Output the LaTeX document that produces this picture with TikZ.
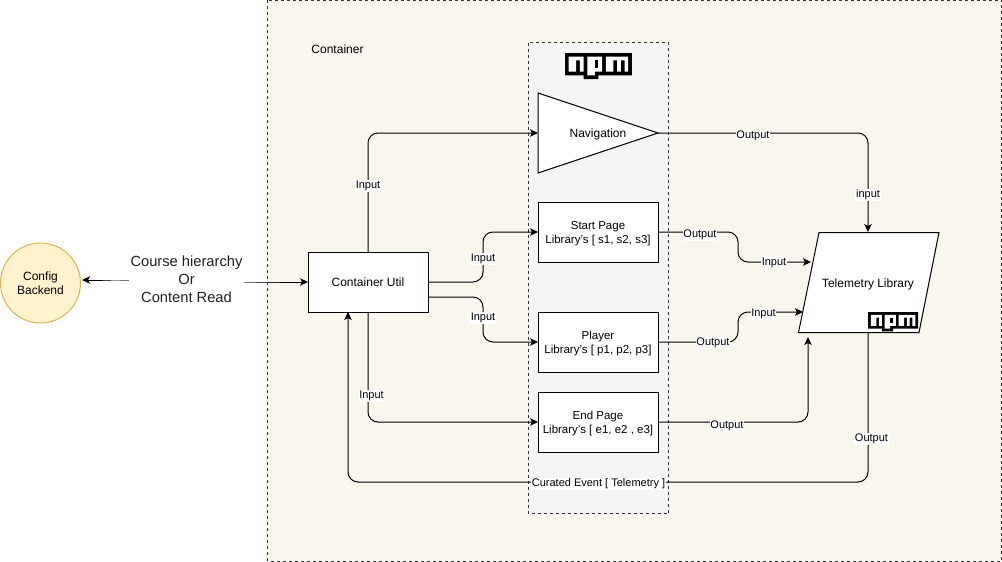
\documentclass[tikz,border=0pt]{standalone}
\usepackage{fontspec}
\setmainfont{Liberation Sans}
\usetikzlibrary{arrows.meta}
\definecolor{contfill}{HTML}{F9F6EE}
\definecolor{npmfill}{HTML}{F5F5F5}
\definecolor{cfgfill}{HTML}{FFF2CC}
\definecolor{cfgline}{HTML}{D6B656}
\definecolor{dashline}{HTML}{333333}
\tikzset{
  x=1pt,y=-1pt,
  box/.style={draw=black,fill=white,line width=1pt,minimum width=120pt,minimum height=60pt,inner sep=0pt,outer sep=0pt,align=center,text depth=-3pt,font=\fontsize{11.5}{14}\selectfont},
  shapeline/.style={draw=black,fill=white,line width=1pt,line join=miter},
  txt/.style={inner sep=0pt,align=center,text depth=0pt,font=\fontsize{12}{15}\selectfont},
  lbl/.style={fill=white,inner sep=0.6pt,yshift=-2pt,font=\fontsize{11}{12}\selectfont},
  conn/.style={draw=black,line width=1pt,rounded corners=10pt,-{Stealth[length=8pt,width=7.5pt,inset=2pt]}},
  fade/.style={line width=1pt},
  region/.style={draw=dashline,line width=0.7pt,dash pattern=on 3pt off 3pt},
  npmlogo/.pic={
    \fill[black] (0,0) -- (18,0) -- (18,6) -- (9,6) -- (9,7) -- (5,7) -- (5,6) -- (0,6) -- cycle;
    \fill[white] (1,1) -- (5,1) -- (5,5) -- (4,5) -- (4,2) -- (3,2) -- (3,5) -- (1,5) -- cycle;
    \fill[white] (6,1) -- (10,1) -- (10,5) -- (8,5) -- (8,6) -- (6,6) -- cycle;
    \fill[black] (8,2) rectangle (9,4);
    \fill[white] (11,1) -- (17,1) -- (17,5) -- (16,5) -- (16,2) -- (15,2) -- (15,5) -- (14,5) -- (14,2) -- (13,2) -- (13,5) -- (11,5) -- cycle;
  }
}
\begin{document}
\begin{tikzpicture}
\useasboundingbox (0,0) rectangle (1002,562);
% regions
\path[fill=contfill,region] (267.5,0) rectangle (1001.5,561);
\path[fill=npmfill,region] (528.5,42.5) rectangle (668.5,513.5);
\node[txt,anchor=center] (contlabel) at (337.5,49) {Container};
% named anchors
\coordinate (logoApos) at (565,53);
\coordinate (logoBpos) at (868,312);
\coordinate (navtip) at (658,133);
\coordinate (navin) at (538,133);
\coordinate (teltop) at (868,232);
\coordinate (telbot) at (868,332);
\coordinate (telinA) at (811,262);
\coordinate (telinB) at (803,312);
\coordinate (telinC) at (808,337);
% logos
\pic[x=3.72pt,y=-3.72pt] (logoa) at (logoApos) {npmlogo};
% shapes
\path[shapeline] (538,93) -- (658,133) -- (538,173) -- cycle;
\node[txt,font=\fontsize{12}{14}\selectfont] (nav) at (598,133) {Navigation};
\node[box] (start) at (598,232) {Start Page\\Library's [ s1, s2, s3]};
\node[box] (player) at (598,342) {Player\\Library's [ p1, p2, p3]};
\node[box] (endp) at (598,422) {End Page\\Library's [ e1, e2 , e3]};
\node[box,font=\fontsize{12}{15}\selectfont,text depth=0pt] (util) at (368,282) {Container Util};
\path[shapeline] (819,232.5) -- (939,232.5) -- (919,332.5) -- (798.5,332.5) -- cycle;
\node[txt] (tele) at (868,283) {Telemetry Library};
\pic[x=2.78pt,y=-2.78pt] (logob) at (logoBpos) {npmlogo};
\node[circle,draw=cfgline,fill=cfgfill,line width=1pt,minimum size=80pt,inner sep=0pt,align=center,text depth=-2pt,font=\fontsize{12}{14}\selectfont] (cfg) at (40.5,283) {Config\\Backend};
\node[inner sep=0pt,align=center,text depth=0pt,font=\fontsize{14.7}{18}\selectfont,text=black!88] (course) at (186.5,279) {Course hierarchy\\Or\\Content Read};
% connectors
\coordinate (cfgin) at (82,280);
\coordinate (coursel) at (129,280);
\coordinate (courser) at (244,282);
\coordinate (leftfade) at (103,280);
\coordinate (rightfade) at (280,282);
\draw[conn] (leftfade) -- (cfgin);
\draw[fade,black!55] (coursel) -- (120,280);
\draw[fade,black!38] (120,280) -- (111,280);
\draw[fade,black!70] (111,280) -- (leftfade);
\draw[conn] (rightfade) -- (util.west);
\draw[fade,black!55] (courser) -- (256,282);
\draw[fade,black!70] (256,282) -- (268,282);
\draw[fade,black!85] (268,282) -- (rightfade);
\draw[conn] (util.north) -- (368,133) -- (navin);
\draw[conn] (navtip) -- (868,133) -- (teltop);
\draw[conn] (428,282) -- (483,282) -- (483,232) -- (start.west);
\draw[conn] (428,297) -- (483,297) -- (483,342) -- (player.west);
\draw[conn] (util.south) -- (368,422) -- (endp.west);
\draw[conn] (start.east) -- (738,232) -- (738,262) -- (telinA);
\draw[conn] (player.east) -- (738,342) -- (738,312) -- (telinB);
\draw[conn] (endp.east) -- (808,422) -- (telinC);
\draw[conn] (telbot) -- (868,482) -- (348,482) -- (348,312);
% labels
\node[lbl] (l1) at (368,184) {Input};
\node[lbl] (l2) at (753,134) {Output};
\node[lbl] (l3) at (868,193) {input};
\node[lbl] (l4) at (483,257) {Input};
\node[lbl] (l5) at (483,316) {Input};
\node[lbl] (l6) at (371.5,394) {Input};
\node[lbl] (l7) at (700,233) {Output};
\node[lbl] (l8) at (774,261) {Input};
\node[lbl] (l9) at (713,341) {Output};
\node[lbl] (l10) at (763.5,312) {Input};
\node[lbl] (l11) at (727,424) {Output};
\node[lbl] (l12) at (871.5,437) {Output};
\node[lbl] (l13) at (598.5,482) {Curated Event [ Telemetry ]};
\end{tikzpicture}
\end{document}
